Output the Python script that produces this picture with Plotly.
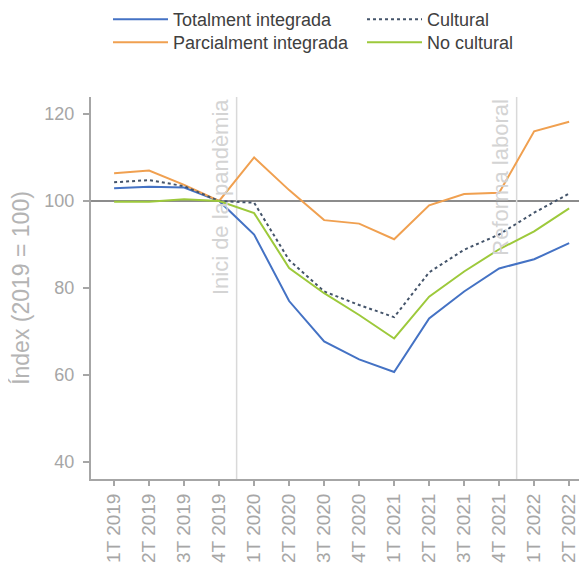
import plotly.graph_objects as go

# --- data
quarters = [
    "1T 2019", "2T 2019", "3T 2019", "4T 2019",
    "1T 2020", "2T 2020", "3T 2020", "4T 2020",
    "1T 2021", "2T 2021", "3T 2021", "4T 2021",
    "1T 2022", "2T 2022",
]
totalment = [102.9, 103.3, 103.1, 100.0, 92.3, 77.0, 67.7, 63.6, 60.7, 73.0, 79.2, 84.5, 86.6, 90.3]
parcialment = [106.4, 107.0, 103.7, 100.0, 110.0, 102.5, 95.6, 94.8, 91.2, 99.0, 101.6, 101.9, 116.0, 118.2]
cultural = [104.3, 104.8, 103.4, 100.0, 99.6, 86.4, 79.2, 76.1, 73.3, 83.6, 88.8, 92.3, 97.3, 101.7]
no_cultural = [99.8, 99.8, 100.4, 100.0, 97.2, 84.6, 78.8, 73.8, 68.4, 78.0, 83.8, 88.9, 93.0, 98.3]

events = [(3.5, "Inici de la pandèmia"), (11.5, "Reforma laboral")]

FONT = "Liberation Sans, Arial, sans-serif"
GREY = "#a6a6a6"

# -- plot area in page pixels (the page body has an 8px margin)
PLOT_LEFT, PLOT_W = 91, 496

fig = go.Figure()

# -- series, each with its own legend box so the 2x2 legend can be placed freely
series = [
    ("Totalment integrada", totalment, dict(color="#4472C4", width=2), "legend"),
    ("Parcialment integrada", parcialment, dict(color="#F0A050", width=2), "legend2"),
    ("Cultural", cultural, dict(color="#44546A", width=2, dash="dot"), "legend3"),
    ("No cultural", no_cultural, dict(color="#9DC93B", width=2), "legend4"),
]
for name, values, line, leg in series:
    fig.add_trace(go.Scatter(x=quarters, y=values, mode="lines", name=name, line=line, legend=leg))

# -- reference line at 100
fig.add_shape(type="line", xref="paper", x0=0, x1=1, yref="y", y0=100, y1=100,
              line=dict(color="#8c8c8c", width=2), layer="below")

# -- event markers
for xpos, label in events:
    fig.add_shape(type="line", xref="x", x0=xpos, x1=xpos, yref="paper", y0=0, y1=1,
                  line=dict(color="#d9d9d9", width=1.5), layer="below")
    fig.add_annotation(x=xpos, xref="x", y=1, yref="paper", text=label, showarrow=False,
                       textangle=-90, xanchor="right", yanchor="top", xshift=-2,
                       font=dict(family=FONT, size=22, color="#d4d4d4"))

legend_style = dict(orientation="v", xanchor="left", yanchor="top", bgcolor="rgba(0,0,0,0)",
                    font=dict(family=FONT, size=18, color="#404040"), itemwidth=55)
col1 = (108 - PLOT_LEFT) / PLOT_W
col2 = (362 - PLOT_LEFT) / PLOT_W
row1, row2 = 1.251, 1.191

fig.update_layout(
    width=579,
    height=564,
    margin=dict(l=83, r=0, t=89, b=93, autoexpand=False),
    paper_bgcolor="white",
    plot_bgcolor="white",
    font=dict(family=FONT, color=GREY),
    showlegend=True,
    legend=dict(x=col1, y=row1, **legend_style),
    legend2=dict(x=col1, y=row2, **legend_style),
    legend3=dict(x=col2, y=row1, **legend_style),
    legend4=dict(x=col2, y=row2, **legend_style),
    xaxis=dict(
        type="category",
        range=[-0.66, 13.51],
        showgrid=False,
        zeroline=False,
        showline=True,
        linecolor=GREY,
        linewidth=2,
        ticks="outside",
        ticklen=5,
        tickcolor=GREY,
        tickwidth=1.5,
        tickangle=-90,
        ticklabelstandoff=0,
        tickfont=dict(family=FONT, size=19, color=GREY),
    ),
    yaxis=dict(
        range=[36.1, 123.9],
        tickvals=[40, 60, 80, 100, 120],
        showgrid=False,
        zeroline=False,
        showline=True,
        linecolor=GREY,
        linewidth=2,
        ticks="outside",
        ticklen=6,
        tickcolor=GREY,
        tickwidth=1.5,
        ticklabelstandoff=5,
        tickfont=dict(family=FONT, size=18, color=GREY),
        title=dict(text="Índex (2019 = 100)", font=dict(family=FONT, size=23, color="#b4b4b4"),
                   standoff=8),
    ),
)

fig.write_html("out.html")
